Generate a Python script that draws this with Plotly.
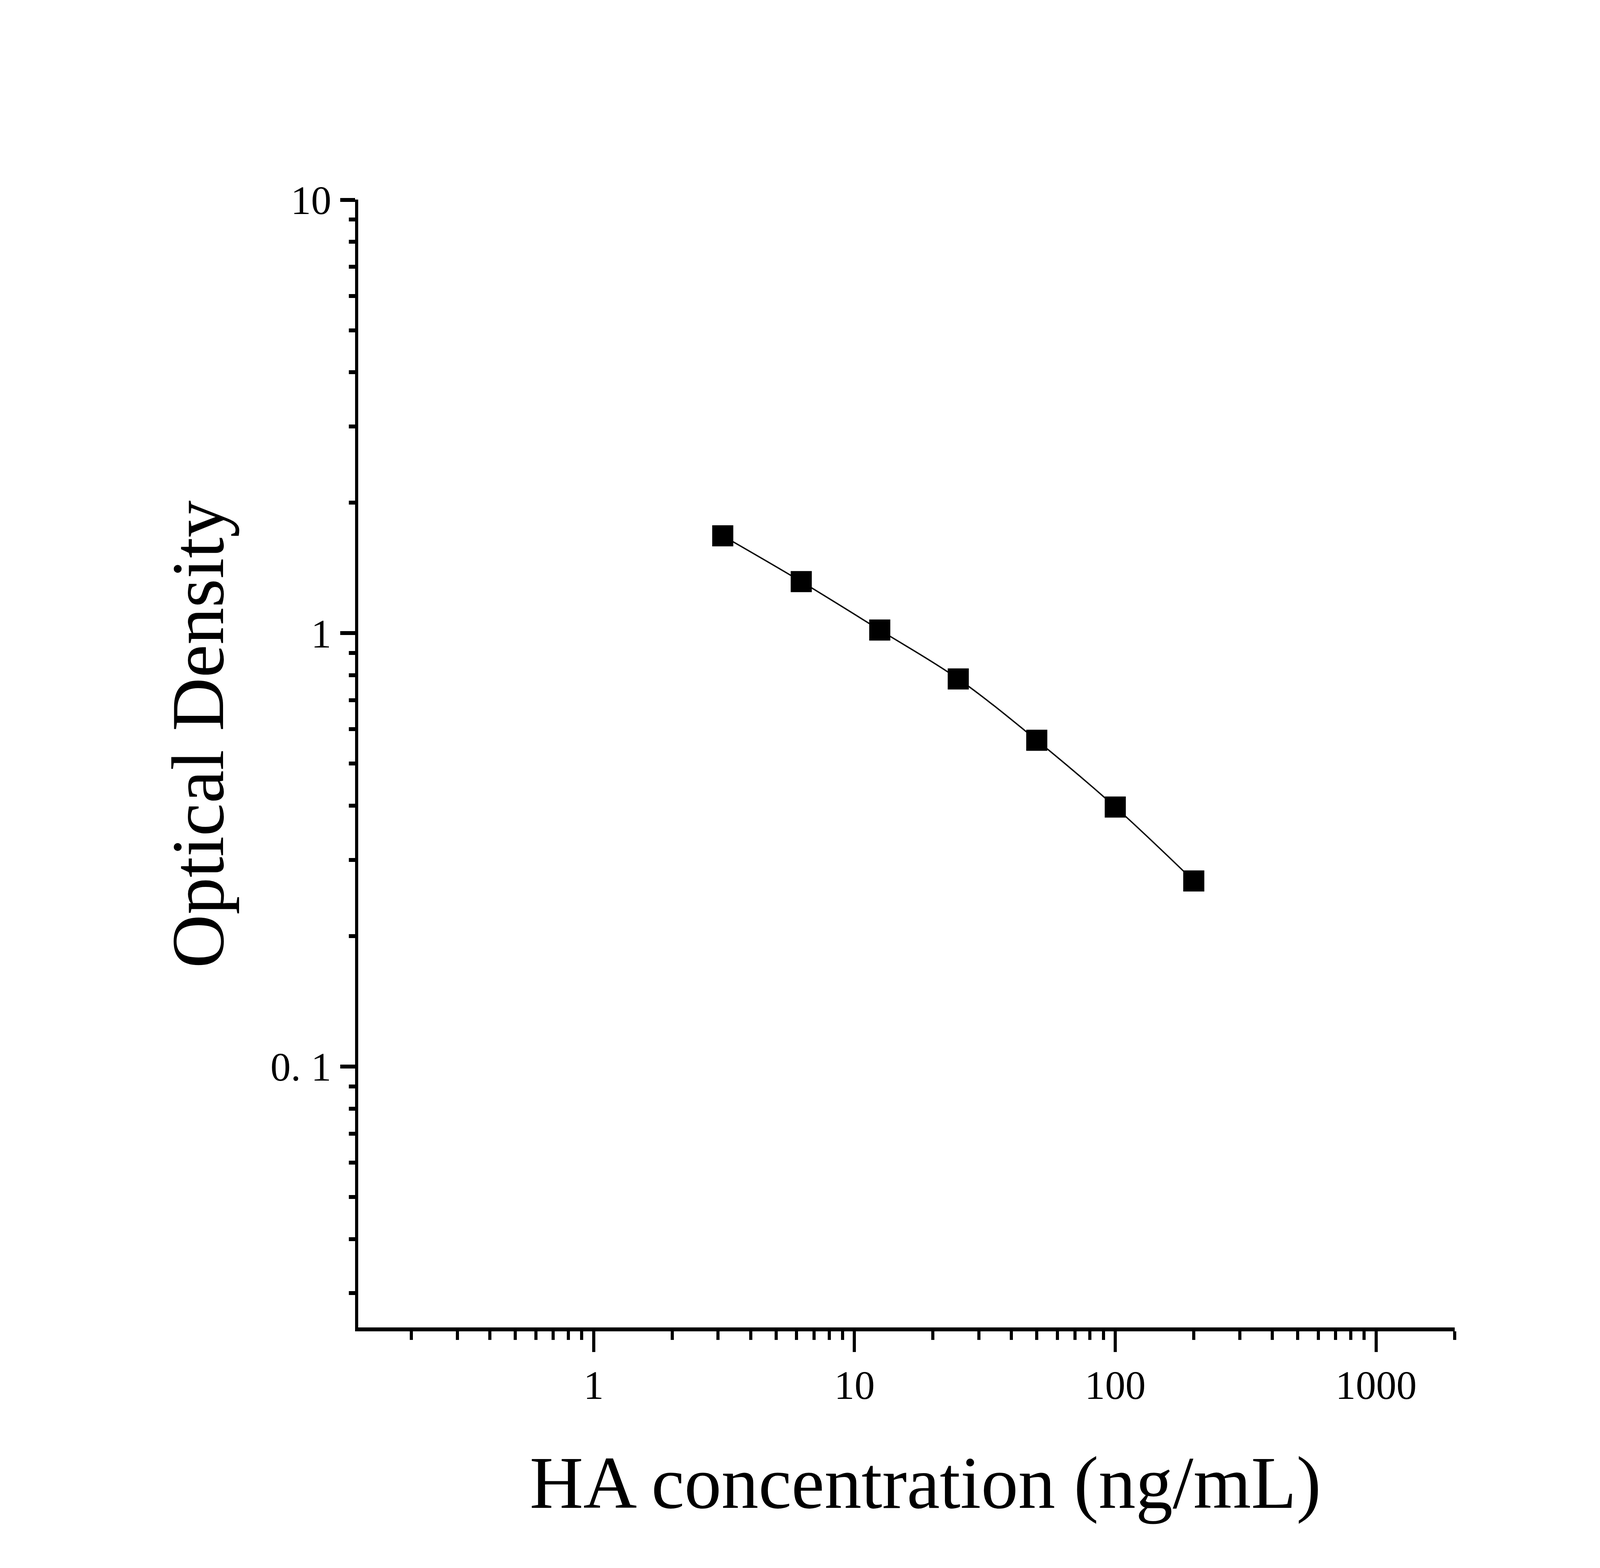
import plotly.graph_objects as go

# standard curve data
concentration = [3.125, 6.25, 12.5, 25, 50, 100, 200]
optical_density = [1.677, 1.315, 1.017, 0.784, 0.566, 0.397, 0.268]

x_tickvals = [1, 10, 100, 1000]
x_ticktext = ["1", "10", "100", "1000"]
y_tickvals = [0.1, 1, 10]
y_ticktext = ["0. 1", "1", "10"]

x_minor = [m * 10 ** e for e in range(-1, 4) for m in range(2, 10)]
y_minor = [m * 10 ** e for e in range(-2, 1) for m in range(2, 10)]

# the browser viewport is 4096 px wide, so fill it and keep the
# reference proportions (5749 x 4015) horizontally
W, H = 4096, 4015
SX = W / 5749
FONT = "Liberation Serif"
TITLE_SIZE = 190
TICK_SIZE = 104

fig = go.Figure()

fig.add_trace(go.Scatter(
    x=concentration,
    y=optical_density,
    mode="lines+markers",
    line=dict(color="black", width=3.5, shape="spline"),
    marker=dict(symbol="square", size=54, color="black"),
    showlegend=False,
))

fig.update_xaxes(
    type="log",
    range=[-0.903, 3.3015],
    showgrid=False, zeroline=False,
    showline=True, linecolor="black", linewidth=10,
    ticks="outside", ticklen=53, tickwidth=8, tickcolor="black",
    tickmode="array", tickvals=x_tickvals, ticktext=x_ticktext,
    tickfont=dict(family=FONT, size=TICK_SIZE, color="black"),
    ticklabelstandoff=-5,
    minor=dict(tickmode="array", tickvals=x_minor, ticks="outside",
               ticklen=22, tickwidth=8, tickcolor="black"),
)
fig.update_yaxes(
    type="log",
    range=[-1.602, 1.0005],
    showgrid=False, zeroline=False,
    showline=True, linecolor="black", linewidth=8,
    ticks="outside", ticklen=round(53 * SX), tickwidth=10, tickcolor="black",
    tickmode="array", tickvals=y_tickvals, ticktext=y_ticktext,
    tickfont=dict(family=FONT, size=TICK_SIZE, color="black"),
    ticklabelstandoff=2,
    minor=dict(tickmode="array", tickvals=y_minor, ticks="outside",
               ticklen=round(23 * SX), tickwidth=10, tickcolor="black"),
)

# axis titles as annotations, to match the original offsets
fig.add_annotation(
    text="HA concentration (ng/mL)",
    xref="paper", yref="paper", x=0.5173, y=-0.138,
    xanchor="center", yanchor="middle", showarrow=False,
    font=dict(family=FONT, size=TITLE_SIZE, color="black"),
)
fig.add_annotation(
    text="Optical Density",
    xref="paper", yref="paper", x=-0.1457, y=0.526,
    xanchor="center", yanchor="middle", showarrow=False, textangle=-90,
    font=dict(family=FONT, size=TITLE_SIZE, color="black"),
)

fig.update_layout(
    width=W,
    height=H,
    margin=dict(l=round(1287 * SX), r=round(522 * SX), t=511, b=616),
    paper_bgcolor="white",
    plot_bgcolor="white",
)

fig.write_html(
    "out.html",
    config={"displayModeBar": False},
    post_script="document.body.style.margin='0';",
)
